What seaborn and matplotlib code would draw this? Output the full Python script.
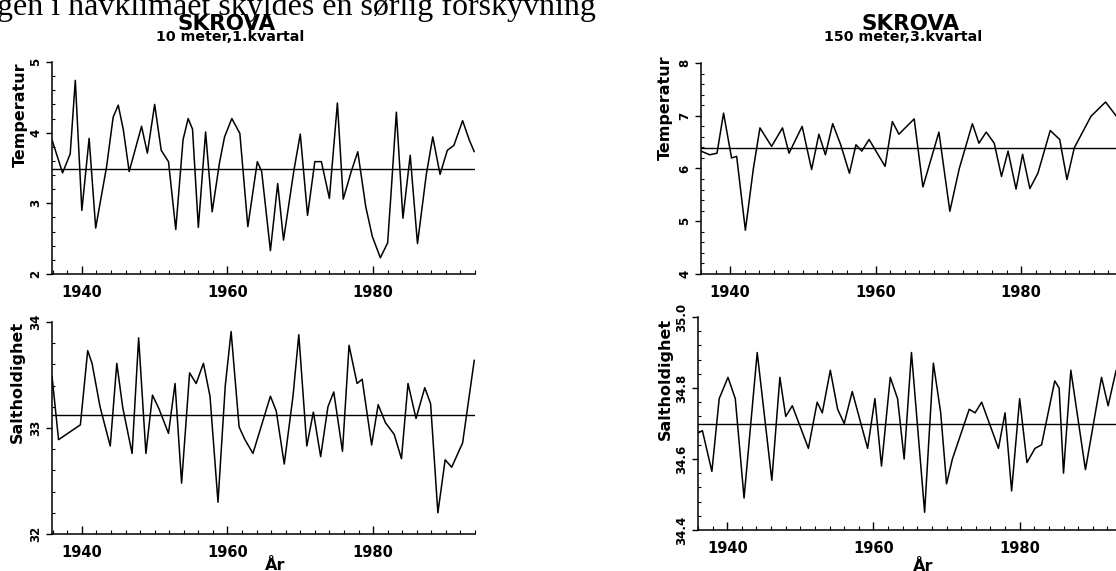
import numpy as np
import pandas as pd
import matplotlib
matplotlib.use("Agg")
import matplotlib.pyplot as plt
from matplotlib.ticker import MultipleLocator, FixedLocator
import seaborn as sns

# ---------------- data ----------------
t10_years = [1935.9, 1937.35, 1938.4, 1939.1, 1940.0, 1941.0, 1941.9, 1943.4, 1944.3, 1945.0,
             1945.7, 1946.5, 1948.2, 1949.0, 1950.0, 1950.9, 1951.9, 1952.9, 1953.9, 1954.6,
             1955.2, 1956.0, 1957.0, 1957.9, 1958.9, 1959.6, 1960.6, 1961.7, 1962.8, 1964.1,
             1964.7, 1965.9, 1966.9, 1967.7, 1969.1, 1970.0, 1971.0, 1972.0, 1972.9, 1974.0,
             1975.1, 1975.9, 1977.0, 1977.9, 1979.0, 1979.9, 1981.0, 1982.0, 1982.5, 1983.2,
             1984.1, 1985.1, 1986.1, 1987.3, 1988.2, 1989.2, 1990.2, 1991.1, 1992.3, 1993.2,
             1993.9]
t10_vals = [3.90, 3.43, 3.70, 4.74, 2.90, 3.92, 2.65, 3.52, 4.22, 4.39,
            4.04, 3.45, 4.09, 3.71, 4.40, 3.75, 3.59, 2.63, 3.90, 4.20,
            4.05, 2.66, 4.01, 2.88, 3.57, 3.94, 4.20, 3.99, 2.67, 3.59,
            3.45, 2.33, 3.28, 2.48, 3.45, 3.98, 2.83, 3.59, 3.59, 3.07,
            4.42, 3.06, 3.45, 3.73, 2.95, 2.53, 2.23, 2.44, 3.19, 4.29,
            2.79, 3.68, 2.43, 3.40, 3.94, 3.41, 3.75, 3.82, 4.17, 3.90,
            3.73]
t10_mean = 3.49

s10_years = [1935.9, 1936.8, 1939.8, 1940.8, 1941.4, 1942.5, 1943.9, 1944.8, 1945.6, 1946.9,
             1947.8, 1948.8, 1949.7, 1950.6, 1951.9, 1952.8, 1953.7, 1954.8, 1955.7, 1956.7,
             1957.6, 1958.7, 1959.7, 1960.5, 1961.6, 1962.4, 1963.5, 1965.9, 1966.7, 1967.8,
             1969.0, 1969.8, 1970.9, 1971.8, 1972.8, 1973.8, 1974.6, 1975.8, 1976.7, 1977.8,
             1978.5, 1979.8, 1980.7, 1981.7, 1982.9, 1983.9, 1984.8, 1985.9, 1987.1, 1987.9,
             1988.9, 1989.9, 1990.8, 1992.3, 1993.9]
s10_vals = [33.49, 32.89, 33.03, 33.73, 33.61, 33.20, 32.83, 33.61, 33.20, 32.76,
            33.85, 32.76, 33.31, 33.18, 32.95, 33.42, 32.48, 33.52, 33.42, 33.61,
            33.30, 32.30, 33.40, 33.91, 33.01, 32.89, 32.76, 33.30, 33.16, 32.66,
            33.30, 33.88, 32.83, 33.15, 32.73, 33.20, 33.34, 32.78, 33.78, 33.42,
            33.46, 32.84, 33.22, 33.05, 32.94, 32.71, 33.42, 33.09, 33.38, 33.23,
            32.20, 32.70, 32.63, 32.86, 33.64]
s10_mean = 33.12

t150_years = [1936.0, 1937.2, 1938.2, 1939.1, 1940.2, 1940.9, 1942.1, 1943.2, 1944.1, 1945.7,
              1947.2, 1948.1, 1949.9, 1951.2, 1952.2, 1953.1, 1954.1, 1955.2, 1956.4, 1957.3,
              1958.1, 1959.1, 1961.3, 1962.3, 1963.2, 1965.3, 1966.5, 1968.7, 1970.2, 1971.5,
              1973.3, 1974.2, 1975.2, 1976.3, 1977.3, 1978.2, 1979.3, 1980.2, 1981.2, 1982.3,
              1984.0, 1985.3, 1986.3, 1987.3, 1989.6, 1991.6, 1993.1]
t150_vals = [6.33, 6.26, 6.29, 7.05, 6.20, 6.23, 4.83, 6.00, 6.77, 6.42,
             6.77, 6.29, 6.80, 5.98, 6.65, 6.26, 6.85, 6.45, 5.91, 6.45,
             6.33, 6.55, 6.04, 6.89, 6.65, 6.94, 5.65, 6.69, 5.19, 6.00,
             6.85, 6.48, 6.69, 6.48, 5.85, 6.33, 5.61, 6.27, 5.62, 5.91,
             6.72, 6.55, 5.79, 6.39, 6.99, 7.26, 6.99]
t150_mean = 6.39

s150_years = [1936.0, 1936.6, 1937.9, 1938.9, 1940.1, 1941.1, 1942.3, 1944.1, 1946.1,
              1947.2, 1948.0, 1948.9, 1951.1, 1952.3, 1953.0, 1954.1, 1955.1, 1956.0,
              1957.1, 1959.2, 1960.2, 1961.1, 1962.3, 1963.3, 1964.2, 1965.2, 1967.0,
              1968.2, 1969.2, 1970.0, 1970.8, 1973.1, 1973.9, 1974.8, 1977.1, 1978.0,
              1978.9, 1980.0, 1981.0, 1982.1, 1983.0, 1984.8, 1985.4, 1986.0, 1987.0,
              1989.0, 1991.2, 1992.1, 1993.2]
s150_vals = [34.673, 34.68, 34.565, 34.77, 34.83, 34.77, 34.49, 34.90, 34.54,
             34.83, 34.72, 34.75, 34.63, 34.76, 34.73, 34.85, 34.74, 34.70,
             34.79, 34.63, 34.77, 34.58, 34.83, 34.77, 34.60, 34.90, 34.45,
             34.87, 34.73, 34.53, 34.60, 34.74, 34.73, 34.76, 34.63, 34.73,
             34.51, 34.77, 34.59, 34.63, 34.64, 34.82, 34.80, 34.56, 34.85,
             34.57, 34.83, 34.75, 34.85]
s150_mean = 34.70

# ---------------- styling ----------------
sns.set_theme(style="ticks")
plt.rcParams['font.family'] = ['DejaVu Sans']
plt.rcParams['font.weight'] = 'bold'

W, H = 1116, 571
fig = plt.figure(figsize=(W / 100, H / 100), dpi=100)
fig.patch.set_facecolor('white')


def px_axes(left, top, right, bottom):
    return fig.add_axes([left / W, (H - bottom) / H, (right - left) / W, (bottom - top) / H])


panels = [
    dict(rect=(52, 62, 475, 274), x=t10_years, y=t10_vals, mean=t10_mean,
         ylim=(2, 5), yt=[2, 3, 4, 5], ylab=['2', '3', '4', '5'], yminor=0.2,
         xlim=(1935.9, 1994.0), label='Temperatur', lab=(-0.057, 0.75), xlabel=False),
    dict(rect=(52, 322, 475, 534), x=s10_years, y=s10_vals, mean=s10_mean,
         ylim=(32, 34), yt=[32, 33, 34], ylab=['32', '33', '34'], yminor=0.2,
         xlim=(1935.9, 1994.0), label='Saltholdighet', lab=(-0.064, 0.717), xlabel=True,
         xlab_pos=(0.527, -0.115)),
    dict(rect=(701, 63, 1123, 274), x=t150_years, y=t150_vals, mean=t150_mean,
         ylim=(4, 8), yt=[4, 5, 6, 7, 8], ylab=['4', '5', '6', '7', '8'], yminor=0.2,
         xlim=(1936.0, 1994.0), label='Temperatur', lab=(-0.066, 0.787), xlabel=False),
    dict(rect=(698, 317, 1122, 530), x=s150_years, y=s150_vals, mean=s150_mean,
         ylim=(34.4, 35.0), yt=[34.4, 34.6, 34.8, 35.0], ylab=['34.4', '34.6', '34.8', '35.0'],
         yminor=0.04, xlim=(1936.0, 1994.0), label='Saltholdighet', lab=(-0.059, 0.709),
         xlabel=True, xlab_pos=(0.53, -0.135)),
]

for p in panels:
    ax = px_axes(*p['rect'])
    df = pd.DataFrame({'year': p['x'], 'value': p['y']})
    sns.lineplot(data=df, x='year', y='value', ax=ax, color='black', lw=1.1,
                 estimator=None, sort=False)
    ax.axhline(p['mean'], color='black', lw=1.0)
    ax.set_xlim(*p['xlim'])
    ax.set_ylim(*p['ylim'])
    sns.despine(ax=ax, top=True, right=True)
    for s in ('left', 'bottom'):
        ax.spines[s].set_linewidth(1.1)
        ax.spines[s].set_color('black')
    ax.set_facecolor('white')
    ax.xaxis.set_major_locator(FixedLocator([1940, 1960, 1980]))
    ax.xaxis.set_minor_locator(MultipleLocator(2))
    ax.set_xticklabels(['1940', '1960', '1980'], fontsize=10.5, fontweight='bold')
    ax.yaxis.set_major_locator(FixedLocator(p['yt']))
    ax.yaxis.set_minor_locator(MultipleLocator(p['yminor']))
    ax.set_yticklabels(p['ylab'], fontsize=8.5, fontweight='bold', rotation=90,
                       va='center', ha='right')
    ax.tick_params(axis='x', which='major', direction='in', length=6, width=1.0,
                   pad=8, colors='black')
    ax.tick_params(axis='x', which='minor', direction='in', length=3, width=0.8, colors='black')
    ax.tick_params(axis='y', which='major', direction='out', length=4, width=1.0,
                   pad=3, colors='black')
    ax.tick_params(axis='y', which='minor', direction='in', length=2.5, width=0.8, colors='black')
    ax.set_ylabel(p['label'], fontsize=11.5, fontweight='bold', color='black')
    ax.yaxis.set_label_coords(*p['lab'])
    if p['xlabel']:
        ax.set_xlabel('År', fontsize=11.5, fontweight='bold', color='black')
        ax.xaxis.set_label_coords(*p['xlab_pos'])
    else:
        ax.set_xlabel('')

# titles
fig.text(227 / W, 1 - 30 / H, 'SKROVA', ha='center', va='baseline',
         fontsize=15.5, fontweight='bold', color='black')
fig.text(230 / W, 1 - 41 / H, '10 meter,1.kvartal', ha='center', va='baseline',
         fontsize=10.3, fontweight='bold', color='black')
fig.text(911 / W, 1 - 30 / H, 'SKROVA', ha='center', va='baseline',
         fontsize=15.5, fontweight='bold', color='black')
fig.text(903 / W, 1 - 41 / H, '150 meter,3.kvartal', ha='center', va='baseline',
         fontsize=10.3, fontweight='bold', color='black')

# running text of the page (cut at the top edge)
fig.text(-3 / W, 1 - 15 / H, 'gen i havklimaet skyldes en sørlig forskyvning',
         ha='left', va='baseline', fontsize=23, fontweight='normal',
         family=['Liberation Serif', 'DejaVu Serif'], color='black')

fig.savefig('out.png', dpi=100, facecolor='white')
